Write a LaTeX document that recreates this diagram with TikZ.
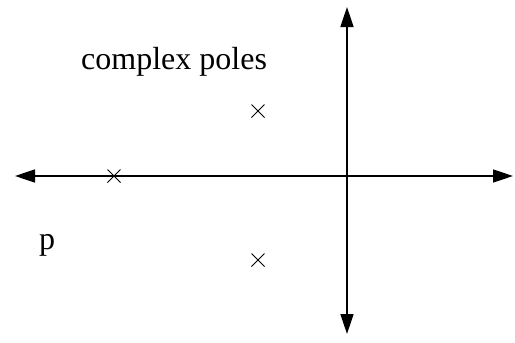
\documentclass[tikz,border=0pt]{standalone}
\usepackage{fontspec}
\setmainfont{Liberation Serif}
\usetikzlibrary{arrows.meta,shapes.misc}
\begin{document}
\begin{tikzpicture}[x=1pt,y=-1pt,
  axis/.style={line width=1.6pt,{Triangle[length=20pt,width=13pt]}-{Triangle[length=20pt,width=13pt]}},
  pole/.style={cross out,draw,line width=1pt,minimum size=12pt,inner sep=0pt},
  lbl/.style={anchor=base west,inner sep=0pt,font=\fontsize{32}{38}\selectfont}]
\useasboundingbox (0,0) rectangle (515,343);
\coordinate (L) at (15,176);
\coordinate (R) at (513,176);
\coordinate (T) at (347,7);
\coordinate (B) at (347,334);
\draw[axis] (L) -- (R);
\draw[axis] (T) -- (B);
\node[pole] (p1) at (114,176) {};
\node[pole] (p2) at (258,111) {};
\node[pole] (p3) at (258,260) {};
\node[lbl] (cp) at (81,69) {complex poles};
\node[lbl] (pp) at (39,249) {p};
\end{tikzpicture}
\end{document}
